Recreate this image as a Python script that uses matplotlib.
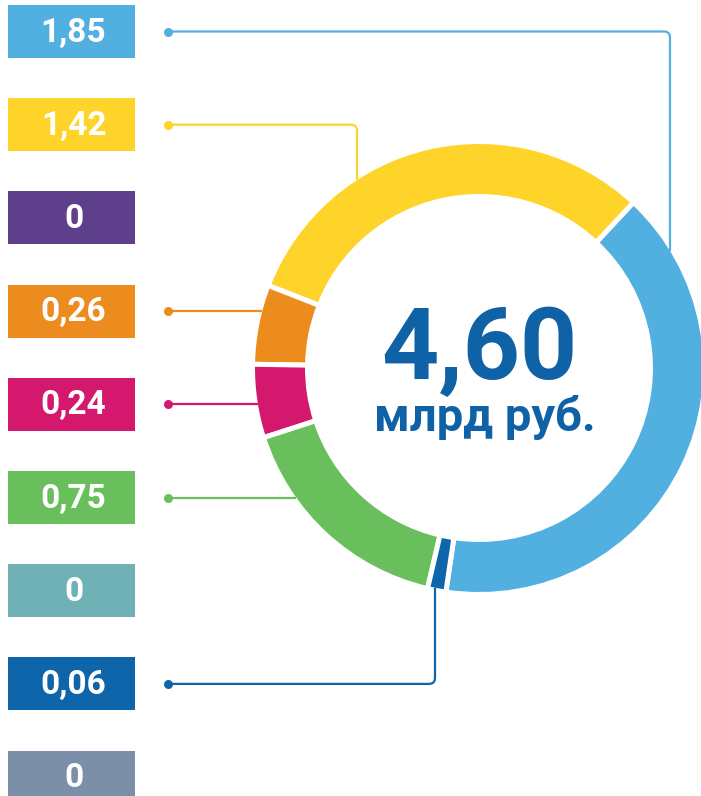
import numpy as np
import matplotlib
matplotlib.use("Agg")
import matplotlib.pyplot as plt
from matplotlib.path import Path
from matplotlib.patches import PathPatch, Rectangle

plt.rcParams['font.family'] = ['Roboto', 'DejaVu Sans']

# budget split, bln rub
values = [1.85, 1.42, 0, 0.26, 0.24, 0.75, 0, 0.06, 0]
colors = ['#52B0E0', '#FFD42A', '#5E3F8B', '#EC8C1E', '#D4186E',
          '#6ABF5D', '#6FB1B4', '#0F65AA', '#7B8FA8']
total_text = '4,60'
unit_text = 'млрд руб.'

# how each box is wired to the ring: 'h' straight across, or an elbow at x
links = [('v', 670), ('v', 357), None, ('h',), ('h',), ('h',), None, ('v', 435), None]

W, H = 701, 796
cx, cy = 479, 368          # ring centre (px, y down)
R, ring_w = 224, 50
box_x0, box_x1 = 8, 135
box_h, box_step, box_top = 53, 93.2, 5
dot_x = 168
text_blue = '#0F62A6'


def fmt(v):
    return '0' if v == 0 else f'{v:.2f}'.replace('.', ',')


def elbow(ax, pts, color, r=6):
    pts = [np.asarray(p, dtype=float) for p in pts]
    verts, codes = [pts[0]], [Path.MOVETO]
    if len(pts) == 3:
        p0, p1, p2 = pts
        a = p1 + (p0 - p1) / np.linalg.norm(p0 - p1) * r
        b = p1 + (p2 - p1) / np.linalg.norm(p2 - p1) * r
        verts += [a, p1, b]
        codes += [Path.LINETO, Path.CURVE3, Path.CURVE3]
    verts.append(pts[-1])
    codes.append(Path.LINETO)
    ax.add_patch(PathPatch(Path(verts, codes), fill=False, edgecolor=color,
                           lw=1.6, capstyle='butt', joinstyle='round'))


fig = plt.figure(figsize=(W / 100, H / 100), dpi=100)
ax = fig.add_axes([0, 0, 1, 1])

# y axis runs downward, so angles are mirrored: clockwise in data is
# counter-clockwise on screen. The first slice ends 47 deg above the right side.
nz = [(v, c) for v, c in zip(values, colors) if v > 0]
start = 360 * values[0] / sum(values) - 47
ax.pie([v for v, _ in nz], colors=[c for _, c in nz], startangle=start,
       counterclock=False, radius=R + 2.5, center=(cx, cy),
       wedgeprops=dict(width=ring_w + 5, edgecolor='white', linewidth=3.6))
ax.set_xlim(0, W)
ax.set_ylim(H, 0)
ax.set_aspect('auto')
ax.axis('off')

for i, (v, c) in enumerate(zip(values, colors)):
    y0 = box_top + i * box_step
    yc = y0 + box_h / 2
    ax.add_patch(Rectangle((box_x0, y0), box_x1 - box_x0, box_h, color=c, lw=0))
    ax.text((box_x0 + box_x1) / 2 + 2, yc + 1, fmt(v), color='white', fontsize=24,
            fontweight='bold', ha='center', va='center')

    link = links[i]
    if link is None:
        continue
    if link[0] == 'h':
        x_end = cx - np.sqrt(R ** 2 - (yc - cy) ** 2)
        pts = [(dot_x, yc), (x_end, yc)]
    else:
        xv = link[1]
        dy = np.sqrt(R ** 2 - (xv - cx) ** 2)
        y_end = cy - dy if yc < cy else cy + dy
        pts = [(dot_x, yc), (xv, yc), (xv, y_end)]
    elbow(ax, pts, c)
    ax.plot(dot_x, yc, 'o', color=c, markersize=6.5, markeredgewidth=0)

ax.text(cx, 379, total_text, color=text_blue, fontsize=72, fontweight='bold',
        ha='center', va='baseline')
ax.text(cx + 6, 431, unit_text, color=text_blue, fontsize=34, fontweight='bold',
        ha='center', va='baseline')

fig.savefig('out.png', dpi=100)
